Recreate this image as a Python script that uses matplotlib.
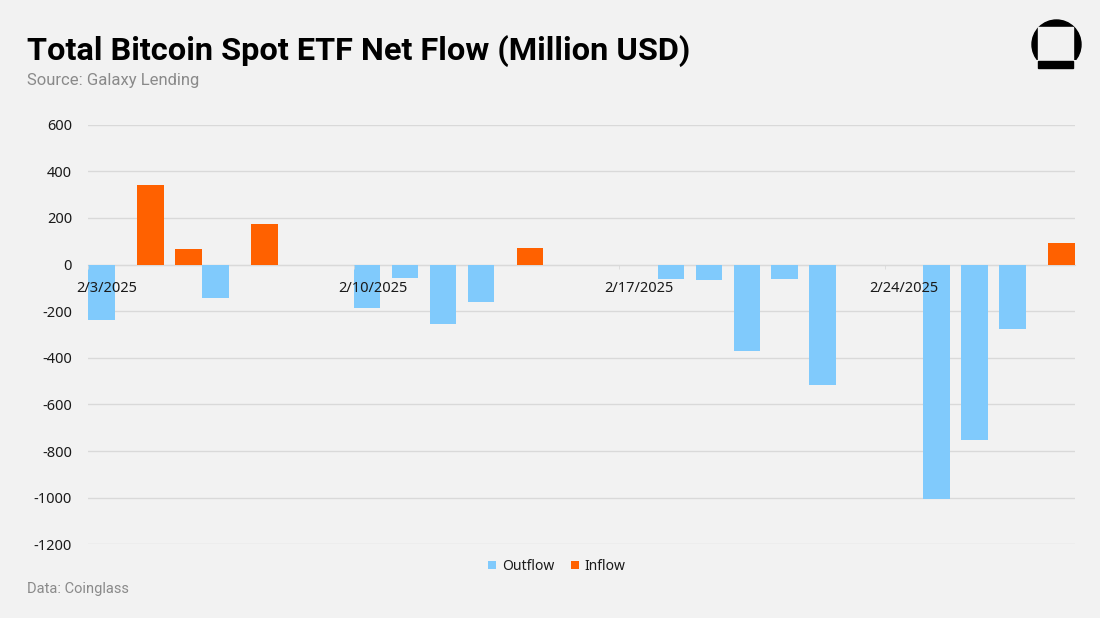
import pandas as pd
import matplotlib
matplotlib.use("Agg")
import matplotlib.pyplot as plt
from matplotlib.patches import Circle, Rectangle

# daily net flow, million USD (as drawn in the reference)
dates = ["2025-02-03", "2025-02-04", "2025-02-05", "2025-02-06", "2025-02-07",
         "2025-02-10", "2025-02-11", "2025-02-12", "2025-02-13", "2025-02-14",
         "2025-02-18", "2025-02-19", "2025-02-20", "2025-02-21", "2025-02-22",
         "2025-02-25", "2025-02-26", "2025-02-27", "2025-02-28"]
net_flow = [-237, 343, 65, -144, 172,
            -187, -58, -255, -161, 69,
            -63, -68, -370, -63, -518,
            -1006, -752, -278, 93]
tick_dates = ["2025-02-03", "2025-02-10", "2025-02-17", "2025-02-24"]
y_ticks = [600, 400, 200, 0, -200, -400, -600, -800, -1000, -1200]

BG = "#F2F2F2"
BLUE = "#80CAFC"
ORANGE = "#FF6100"
GRID = "#D9D9D9"
LABEL_FONT = ["Noto Sans", "DejaVu Sans"]
HEAD_FONT = ["Roboto", "DejaVu Sans"]

start = pd.Timestamp(dates[0])
day = [(pd.Timestamp(d) - start).days for d in dates]
tick_day = [(pd.Timestamp(d) - start).days for d in tick_dates]
tick_lbl = [f"{pd.Timestamp(d).month}/{pd.Timestamp(d).day}/{pd.Timestamp(d).year}" for d in tick_dates]
n_days = (pd.Timestamp("2025-02-28") - start).days + 1

out_x = [d - 0.145 for d, v in zip(day, net_flow) if v < 0]
out_v = [v for v in net_flow if v < 0]
in_x = [d + 0.145 for d, v in zip(day, net_flow) if v >= 0]
in_v = [v for v in net_flow if v >= 0]

fig = plt.figure(figsize=(11, 6.18), dpi=100, facecolor=BG)
ax = fig.add_axes([88 / 1100, 1 - 544.3 / 618, 987 / 1100, 419.6 / 618], facecolor=BG)

# gridlines behind the bars, date labels in front of them
for t in y_ticks:
    ax.axhline(t, color=GRID, linewidth=1.0, zorder=0.5)
bw = 0.70
ax.bar(out_x, out_v, bw, color=BLUE, label="Outflow", zorder=2)
ax.bar(in_x, in_v, bw, color=ORANGE, label="Inflow", zorder=2)
ax.set_axisbelow(False)

ax.set_xlim(-0.5, n_days - 0.5)
ax.set_ylim(-1200, 600)
ax.set_yticks(y_ticks)
ax.set_yticklabels([str(t) for t in y_ticks], family=LABEL_FONT, fontsize=10.5, color="#1a1a1a")
ax.tick_params(axis="y", length=0, pad=11.5)

ax.spines["bottom"].set_position(("data", 0))
ax.spines["bottom"].set_color(GRID)
ax.spines["bottom"].set_zorder(0.6)
for s in ("top", "right", "left"):
    ax.spines[s].set_visible(False)
ax.set_xticks(tick_day)
ax.set_xticklabels(tick_lbl, family=LABEL_FONT, fontsize=10.5, color="#1a1a1a")
ax.set_xticks([t - 0.5 for t in tick_day], minor=True)
ax.tick_params(axis="x", which="major", length=0, pad=12)
ax.tick_params(axis="x", which="minor", length=3, color=GRID)

leg = ax.legend(loc="upper center", bbox_to_anchor=(0.475, -0.005), ncol=2, frameon=False,
                handlelength=0.6, handleheight=0.6, handletextpad=0.4, columnspacing=1.2,
                prop={"family": LABEL_FONT, "size": 10})
for t in leg.get_texts():
    t.set_color("#1a1a1a")

fig.text(27 / 1100, 1 - 60 / 618, "Total Bitcoin Spot ETF Net Flow (Million USD)",
         family=HEAD_FONT, fontweight="bold", fontsize=23.4, color="black", va="baseline")
fig.text(27 / 1100, 1 - 85 / 618, "Source: Galaxy Lending",
         family=HEAD_FONT, fontsize=12, color="#8a8a8a", va="baseline")
fig.text(27 / 1100, 1 - 593 / 618, "Data: Coinglass",
         family=HEAD_FONT, fontsize=10.5, color="#8a8a8a", va="baseline")

# logo, in pixel units of a small box
lg = fig.add_axes([1020 / 1100, 1 - 80 / 618, 70 / 1100, 70 / 618])
lg.set_xlim(0, 70)
lg.set_ylim(70, 0)
lg.axis("off")
circ = Circle((36.5, 34.5), 24.5, color="black")
lg.add_patch(circ)
circ.set_clip_path(Rectangle((0, 0), 70, 50, transform=lg.transData))
lg.add_patch(Rectangle((18, 17), 35, 33, color=BG))
lg.add_patch(Rectangle((18, 51), 35, 7, color="black"))

fig.savefig("out.png", dpi=100, facecolor=BG)
